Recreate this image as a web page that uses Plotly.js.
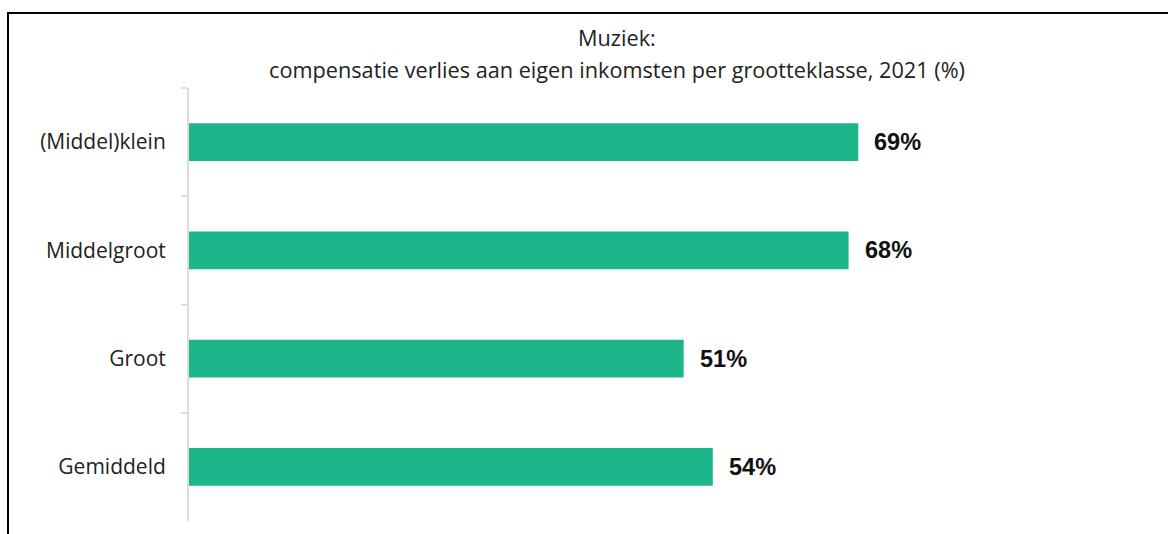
<!DOCTYPE html>
<html>
<head>
<meta charset="utf-8">
<script src="https://cdn.plot.ly/plotly-3.0.1.min.js"></script>
<style>
html,body{margin:0;padding:0;background:#fff;width:1168px;height:534px;overflow:hidden;}
#chart{position:absolute;left:0;top:0;width:1168px;height:534px;}
#frame{position:absolute;left:7px;top:12px;width:1161px;height:522px;box-sizing:border-box;border-top:2px solid #000;border-left:2px solid #000;pointer-events:none;z-index:10;}
</style>
</head>
<body>
<div id="chart"></div>
<div id="frame"></div>
<script>
const categories = ["(Middel)klein", "Middelgroot", "Groot", "Gemiddeld"];
const values = [69, 68, 51, 54];
const labels = ["69%", "68%", "51%", "54%"];
const titleLines = ["Muziek:", "compensatie verlies aan eigen inkomsten per grootteklasse, 2021 (%)"];

const barColor = "#1db68b";
const font = "'Open Sans', 'Noto Sans', sans-serif";

const trace = {
  type: "bar",
  orientation: "h",
  y: categories,
  x: values,
  marker: {color: barColor},
  width: 0.35,
  hoverinfo: "none"
};

const annotations = categories.map((c, i) => ({
  x: values[i], y: c, xref: "x", yref: "y",
  text: "<b>" + labels[i] + "</b>",
  showarrow: false, xanchor: "left", yanchor: "middle", xshift: 14,
  font: {family: "Arial, 'Liberation Sans', sans-serif", size: 23.5, color: "#111"}
}));

const titleY = [37, 69];
titleLines.forEach((t, i) => {
  annotations.push({
    text: t, showarrow: false,
    xref: "paper", yref: "paper",
    x: (617 - 189) / (1168 - 189 - 9),
    y: 1 + (88 - titleY[i]) / (534 - 88 - 13),
    xanchor: "center", yanchor: "middle",
    font: {family: font, size: 21.7, color: "#222"}
  });
});

const layout = {
  width: 1168, height: 534,
  margin: {l: 189, r: 9, t: 88, b: 13, pad: 0},
  paper_bgcolor: "#fff", plot_bgcolor: "#fff",
  showlegend: false,
  xaxis: {
    range: [0, 100], visible: false, showgrid: false, zeroline: false, fixedrange: true
  },
  yaxis: {
    type: "category",
    categoryorder: "array", categoryarray: categories,
    autorange: "reversed",
    showline: true, linecolor: "#dcdcdc", linewidth: 2,
    ticks: "outside", tickson: "boundaries", ticklen: 6, tickcolor: "#dcdcdc", tickwidth: 2,
    showgrid: false, zeroline: false,
    tickfont: {family: font, size: 21, color: "#222"},
    ticklabelstandoff: 17
  },
  annotations: annotations
};

Plotly.newPlot("chart", [trace], layout, {displayModeBar: false, staticPlot: true});
</script>
</body>
</html>
